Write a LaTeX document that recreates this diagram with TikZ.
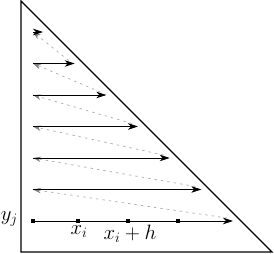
\documentclass[tikz,border=0pt]{standalone}
\usetikzlibrary{arrows.meta}
\begin{document}
\begin{tikzpicture}[x=1pt,y=-1pt,
  rowarrow/.style={line width=0.7pt,-{Stealth[length=10pt,width=6.5pt,inset=3pt]}},
  backarrow/.style={gray!65,line width=0.7pt,dash pattern=on 2.5pt off 4pt,-{Stealth[length=8pt,width=5.5pt,inset=2.5pt,gray]}},
  gridpt/.style={fill=black,inner sep=0pt,minimum size=4.5pt,rectangle},
  lbl/.style={font=\fontsize{20.74}{24}\selectfont,inner sep=1pt}]
\useasboundingbox (0,0) rectangle (274,254);
\coordinate (A) at (21,1);
\coordinate (B) at (21,252);
\coordinate (C) at (272,252);
\draw[line width=1.1pt,line join=miter] (A) -- (B) -- (C) -- cycle;
\foreach \j in {0,...,6}{
  \pgfmathsetmacro{\yy}{221-31.5*\j}
  \pgfmathsetmacro{\xe}{233-31.67*\j}
  \coordinate (s\j) at (33,\yy);
  \coordinate (e\j) at (\xe,\yy);
}
\foreach \j [evaluate=\j as \k using int(\j+1)] in {0,...,5}{
  \draw[backarrow] ([shift={(-6,-3)}]e\j) -- (s\k);
}
\foreach \j in {0,...,6}{
  \draw[rowarrow] (s\j) -- (e\j);
}
\node[gridpt] (p0) at (33,221) {};
\node[gridpt] (p1) at (78,221) {};
\node[gridpt] (p2) at (128,221) {};
\node[gridpt] (p3) at (178,221) {};
\node[lbl,anchor=east,inner sep=0pt] (yj) at (18,219) {$y_j$};
\node[lbl,anchor=north] (xi) at (79,224) {$x_i$};
\node[lbl,anchor=north] (xih) at (130,224) {$x_i+h$};
\end{tikzpicture}
\end{document}
